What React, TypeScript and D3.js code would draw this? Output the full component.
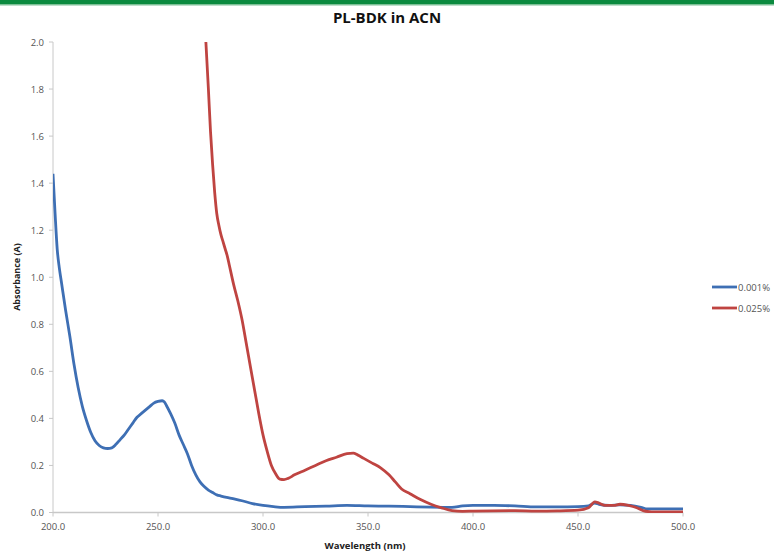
import React from "react";
import * as d3 from "d3";

const xTicks = [200, 250, 300, 350, 400, 450, 500];
const yTicks = [0, 0.2, 0.4, 0.6, 0.8, 1.0, 1.2, 1.4, 1.6, 1.8, 2.0];

const blueWl = [200, 201, 202, 203, 204, 206, 208, 210, 212, 214, 216, 218, 220, 222, 224, 226, 228, 230, 232, 234, 236, 238, 240, 242, 244, 246, 248, 250, 252, 253, 254, 256, 258, 260, 262, 264, 266, 268, 270, 272, 274, 276, 278, 280, 285, 290, 295, 300, 305, 310, 320, 330, 340, 350, 360, 370, 380, 390, 395, 400, 410, 420, 430, 440, 450, 455, 458, 460, 465, 470, 475, 480, 483, 490, 500];
const blueAbs = [1.44, 1.27, 1.12, 1.04, 0.98, 0.86, 0.75, 0.63, 0.53, 0.45, 0.39, 0.34, 0.305, 0.285, 0.275, 0.272, 0.275, 0.29, 0.31, 0.33, 0.355, 0.38, 0.405, 0.42, 0.435, 0.45, 0.465, 0.472, 0.475, 0.47, 0.455, 0.42, 0.38, 0.33, 0.29, 0.25, 0.2, 0.16, 0.13, 0.11, 0.095, 0.085, 0.075, 0.07, 0.06, 0.05, 0.038, 0.03, 0.025, 0.022, 0.025, 0.027, 0.03, 0.028, 0.027, 0.025, 0.023, 0.022, 0.028, 0.03, 0.03, 0.028, 0.024, 0.024, 0.025, 0.028, 0.04, 0.035, 0.03, 0.032, 0.03, 0.022, 0.015, 0.015, 0.015];

const redWl = [272.8, 274, 275, 276, 277, 278, 279, 280, 281, 282, 283, 284, 286, 288, 290, 292, 294, 296, 298, 300, 302, 304, 306, 308, 310, 312, 315, 320, 325, 330, 335, 340, 343, 345, 348, 352, 356, 360, 363, 366, 370, 375, 380, 385, 390, 395, 400, 420, 430, 440, 450, 455, 458, 460, 463, 467, 470, 474, 478, 481, 485, 500];
const redAbs = [2.0, 1.8, 1.62, 1.48, 1.36, 1.27, 1.22, 1.18, 1.15, 1.12, 1.09, 1.05, 0.97, 0.9, 0.82, 0.72, 0.62, 0.52, 0.42, 0.33, 0.26, 0.2, 0.165, 0.142, 0.14, 0.145, 0.16, 0.18, 0.2, 0.22, 0.235, 0.25, 0.252, 0.245, 0.23, 0.21, 0.19, 0.16, 0.13, 0.1, 0.08, 0.055, 0.035, 0.02, 0.008, 0.005, 0.006, 0.008, 0.006, 0.007, 0.01, 0.02, 0.045, 0.04, 0.03, 0.03, 0.035, 0.03, 0.02, 0.008, 0.003, 0.003];

const seriesNames = ["0.001%", "0.025%"];
const seriesColors = ["#3e6fb4", "#bf4441"];

export default function App() {
  const W = 774, H = 551;
  const x = d3.scaleLinear().domain([200, 500]).range([53, 683]);
  const y = d3.scaleLinear().domain([0, 2]).range([512.5, 42]);
  const line = d3.line<[number, number]>().x(d => x(d[0])).y(d => y(d[1])).curve(d3.curveMonotoneX);
  const blue = blueWl.map((w, i) => [w, blueAbs[i]] as [number, number]);
  const red = redWl.map((w, i) => [w, redAbs[i]] as [number, number]);
  const font = "'Open Sans', 'Liberation Sans', sans-serif";
  return (
    <svg width={W} height={H} style={{ position: "absolute", left: 0, top: 0, background: "#fff" }} fontFamily={font}>
      <rect x={0} y={0} width={W} height={4} fill="#0b8a3f" />
      <rect x={0} y={4} width={W} height={1.5} fill="#7cc096" />
      <text x={387} y={23} textAnchor="middle" fontSize={15} fontWeight="bold" fill="#111">PL-BDK in ACN</text>
      <defs>
        <clipPath id="plot"><rect x={53} y={41} width={631} height={472} /></clipPath>
      </defs>
      {/* axes */}
      <line x1={53} x2={53} y1={y(2)} y2={y(0)} stroke="#c8c8c8" strokeWidth={1} />
      <line x1={53} x2={683} y1={y(0)} y2={y(0)} stroke="#c8c8c8" strokeWidth={1.5} />
      {yTicks.map(t => (
        <g key={t}>
          <line x1={49} x2={53} y1={y(t)} y2={y(t)} stroke="#c8c8c8" />
          <text x={44} y={y(t) + 3.5} textAnchor="end" fontSize={9.5} fill="#555">{t.toFixed(1)}</text>
        </g>
      ))}
      {xTicks.map(t => (
        <g key={t}>
          <line x1={x(t)} x2={x(t)} y1={y(0)} y2={y(0) + 4} stroke="#c8c8c8" />
          <text x={x(t)} y={530} textAnchor="middle" fontSize={9.5} fill="#555">{t.toFixed(1)}</text>
        </g>
      ))}
      <text x={365} y={549} textAnchor="middle" fontSize={9.5} fontWeight="bold" fill="#222">Wavelength (nm)</text>
      <text transform={`translate(20,277) rotate(-90)`} textAnchor="middle" fontSize={9} fontWeight="bold" fill="#222">Absorbance (A)</text>
      <g clipPath="url(#plot)">
        <path d={line(blue) || ""} fill="none" stroke={seriesColors[0]} strokeWidth={2.8} strokeLinejoin="round" />
        <path d={line(red) || ""} fill="none" stroke={seriesColors[1]} strokeWidth={2.8} strokeLinejoin="round" />
      </g>
      {seriesNames.map((n, i) => (
        <g key={n}>
          <line x1={712} x2={737} y1={287 + i * 21} y2={287 + i * 21} stroke={seriesColors[i]} strokeWidth={2.8} />
          <text x={738} y={290.5 + i * 21} fontSize={9.5} fill="#555">{n}</text>
        </g>
      ))}
    </svg>
  );
}
